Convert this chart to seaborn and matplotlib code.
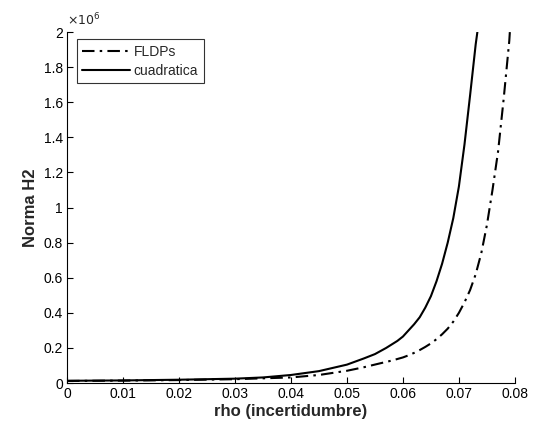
"""
Norma H2 vs rho: FLDPs vs cuadratica
"""
import matplotlib
matplotlib.use("Agg")
import matplotlib.pyplot as plt
import seaborn as sns
import pandas as pd
from matplotlib.ticker import FuncFormatter

# values (norma in units of 1e6)
rho_fldps = [0.0, 0.010, 0.020, 0.030, 0.040, 0.045, 0.050, 0.053, 0.056, 0.058,
             0.060, 0.061, 0.062, 0.063, 0.064, 0.065, 0.066, 0.067, 0.068, 0.069,
             0.070, 0.071, 0.072, 0.073, 0.074, 0.075, 0.076, 0.077, 0.078, 0.079, 0.0791]
norma_fldps = [0.012, 0.014, 0.017, 0.022, 0.032, 0.046, 0.070, 0.090, 0.113, 0.128,
               0.146, 0.158, 0.172, 0.188, 0.206, 0.226, 0.250, 0.278, 0.310, 0.350,
               0.400, 0.460, 0.530, 0.620, 0.740, 0.900, 1.100, 1.320, 1.620, 1.950, 2.000]

rho_cuad = [0.0, 0.010, 0.020, 0.030, 0.035, 0.040, 0.045, 0.050, 0.053, 0.055,
            0.057, 0.059, 0.060, 0.061, 0.062, 0.063, 0.064, 0.065, 0.066, 0.067,
            0.068, 0.069, 0.070, 0.071, 0.072, 0.073, 0.0733]
norma_cuad = [0.013, 0.015, 0.019, 0.025, 0.032, 0.046, 0.068, 0.105, 0.140, 0.165,
              0.200, 0.240, 0.265, 0.300, 0.335, 0.375, 0.430, 0.495, 0.580, 0.680,
              0.800, 0.940, 1.120, 1.360, 1.640, 1.930, 2.000]

x_ticks = [0, 0.01, 0.02, 0.03, 0.04, 0.05, 0.06, 0.07, 0.08]
y_ticks = [0, 0.2, 0.4, 0.6, 0.8, 1.0, 1.2, 1.4, 1.6, 1.8, 2.0]

sns.set_style("white")
plt.rcParams["font.family"] = ["Liberation Sans", "DejaVu Sans"]

df_f = pd.DataFrame({"rho": rho_fldps, "norma": norma_fldps})
df_c = pd.DataFrame({"rho": rho_cuad, "norma": norma_cuad})

fig = plt.figure(figsize=(5.37, 4.28), dpi=100)
ax = fig.add_axes([0.1248, 0.105, 0.834, 0.820])

sns.lineplot(data=df_f, x="rho", y="norma", ax=ax, color="black", linewidth=1.5,
             label="FLDPs", sort=False)
sns.lineplot(data=df_c, x="rho", y="norma", ax=ax, color="black", linewidth=1.5,
             label="cuadratica", sort=False)
ax.lines[0].set_dashes([6, 2.5, 1.2, 2.5])

ax.set_xlim(0, 0.08)
ax.set_ylim(0, 2)
ax.set_xticks(x_ticks)
ax.set_yticks(y_ticks)
ax.xaxis.set_major_formatter(FuncFormatter(lambda v, p: "%g" % round(v, 3)))
ax.yaxis.set_major_formatter(FuncFormatter(lambda v, p: "%g" % round(v, 2)))
ax.tick_params(direction="in", length=4, width=0.8, labelsize=10, colors="black",
               left=True, bottom=True, pad=3)

for s in ["top", "right"]:
    ax.spines[s].set_visible(False)
for s in ["left", "bottom"]:
    ax.spines[s].set_color("black")
    ax.spines[s].set_linewidth(0.8)

ax.set_xlabel("rho (incertidumbre)", fontsize=12, fontweight="bold", labelpad=2)
ax.set_ylabel("Norma H2", fontsize=12, fontweight="bold", labelpad=4)
ax.text(0.0, 1.012, r"$\times 10^{6}$", transform=ax.transAxes, fontsize=9,
        ha="left", va="bottom")

leg = ax.legend(loc="upper left", bbox_to_anchor=(0.022, 0.98), fontsize=10,
                frameon=True, fancybox=False, handlelength=3.4, borderpad=0.4,
                labelspacing=0.35, handletextpad=0.3, borderaxespad=0)
leg.get_frame().set_edgecolor("black")
leg.get_frame().set_linewidth(0.8)

fig.savefig("out.png", dpi=100)
